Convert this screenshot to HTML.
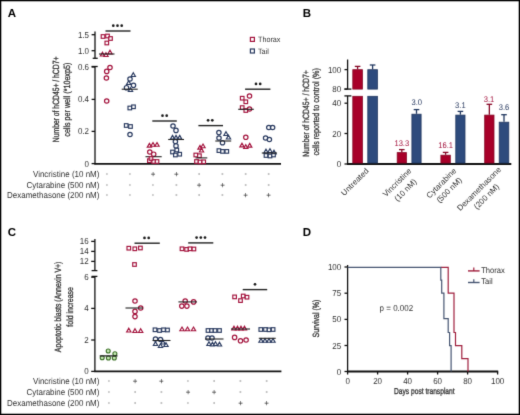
<!DOCTYPE html>
<html><head><meta charset="utf-8"><style>
html,body{margin:0;padding:0;background:#fff;width:520px;height:415px;overflow:hidden;}
svg{display:block;font-family:"Liberation Sans",sans-serif;text-rendering:geometricPrecision;}
#w{width:520px;height:415px;}
</style></head><body>
<div id="w"><svg width="520" height="415" viewBox="0 0 520 415" font-family="Liberation Sans, sans-serif">
<defs><filter id="bl" x="0" y="0" width="520" height="415" filterUnits="userSpaceOnUse" color-interpolation-filters="sRGB"><feConvolveMatrix order="3" kernelMatrix="0.0114 0.084 0.0114 0.084 0.618 0.084 0.0114 0.084 0.0114" divisor="1" edgeMode="duplicate"/></filter></defs>
<rect x="0" y="0" width="520" height="415" fill="#fff"/>
<g filter="url(#bl)">
<rect x="0" y="0" width="520" height="415" fill="#fff"/>
<text x="7.8" y="17.2" font-size="11.5" font-weight="bold" fill="#000">A</text>
<text x="302.8" y="17.2" font-size="11.5" font-weight="bold" fill="#000">B</text>
<text x="7.8" y="236.4" font-size="11.5" font-weight="bold" fill="#000">C</text>
<text x="302.8" y="236.4" font-size="11.5" font-weight="bold" fill="#000">D</text>
<line x1="95" y1="31.6" x2="95" y2="58.3" stroke="#111" stroke-width="1.3"/>
<line x1="92.7" y1="58.3" x2="97.7" y2="58.3" stroke="#111" stroke-width="1.3"/>
<line x1="95" y1="66.5" x2="95" y2="164.2" stroke="#111" stroke-width="1.3"/>
<line x1="91.6" y1="66.5" x2="97.7" y2="66.5" stroke="#111" stroke-width="1.3"/>
<line x1="94.35" y1="163.8" x2="281" y2="163.8" stroke="#111" stroke-width="1.8"/>
<line x1="91.6" y1="34.7" x2="95" y2="34.7" stroke="#111" stroke-width="1.3"/>
<text transform="translate(89,34.7) scale(0.9259,1)" font-size="8.64" text-anchor="end" fill="#333" font-weight="normal" dominant-baseline="central" >1.5</text>
<line x1="91.6" y1="50.7" x2="95" y2="50.7" stroke="#111" stroke-width="1.3"/>
<text transform="translate(89,50.7) scale(0.9259,1)" font-size="8.64" text-anchor="end" fill="#333" font-weight="normal" dominant-baseline="central" >1.0</text>
<line x1="91.6" y1="67.0" x2="95" y2="67.0" stroke="#111" stroke-width="1.3"/>
<text transform="translate(89,67.0) scale(0.9259,1)" font-size="8.64" text-anchor="end" fill="#333" font-weight="normal" dominant-baseline="central" >0.6</text>
<line x1="91.6" y1="99.4" x2="95" y2="99.4" stroke="#111" stroke-width="1.3"/>
<text transform="translate(89,99.4) scale(0.9259,1)" font-size="8.64" text-anchor="end" fill="#333" font-weight="normal" dominant-baseline="central" >0.4</text>
<line x1="91.6" y1="131.4" x2="95" y2="131.4" stroke="#111" stroke-width="1.3"/>
<text transform="translate(89,131.4) scale(0.9259,1)" font-size="8.64" text-anchor="end" fill="#333" font-weight="normal" dominant-baseline="central" >0.2</text>
<line x1="91.6" y1="163.6" x2="95" y2="163.6" stroke="#111" stroke-width="1.3"/>
<text transform="translate(89,163.6) scale(0.9259,1)" font-size="8.64" text-anchor="end" fill="#333" font-weight="normal" dominant-baseline="central" >0</text>
<text transform="translate(59.0,99.4) rotate(-90)" font-size="9" text-anchor="middle" fill="#333" stroke="#333" stroke-width="0.3" textLength="85.6" lengthAdjust="spacingAndGlyphs">Number of hCD45+ / hCD7+</text>
<text transform="translate(70.4,99.7) rotate(-90)" font-size="9" text-anchor="middle" fill="#333" stroke="#333" stroke-width="0.3" textLength="74.0" lengthAdjust="spacingAndGlyphs">cells per well (*10exp5)</text>
<rect x="101.20" y="34.70" width="3.6" height="3.6" fill="#fff" fill-opacity="0.6" stroke="#a3123c" stroke-width="1.15"/>
<rect x="105.70" y="34.20" width="3.6" height="3.6" fill="#fff" fill-opacity="0.6" stroke="#a3123c" stroke-width="1.15"/>
<rect x="108.70" y="36.70" width="3.6" height="3.6" fill="#fff" fill-opacity="0.6" stroke="#a3123c" stroke-width="1.15"/>
<rect x="105.00" y="41.20" width="3.6" height="3.6" fill="#fff" fill-opacity="0.6" stroke="#a3123c" stroke-width="1.15"/>
<path d="M102.50,52.27 L104.65,55.99 L100.35,55.99Z" fill="#fff" fill-opacity="0.6" stroke="#a3123c" stroke-width="1.15" stroke-linejoin="miter"/>
<path d="M106.00,52.77 L108.15,56.49 L103.85,56.49Z" fill="#fff" fill-opacity="0.6" stroke="#a3123c" stroke-width="1.15" stroke-linejoin="miter"/>
<path d="M110.00,50.27 L112.15,53.99 L107.85,53.99Z" fill="#fff" fill-opacity="0.6" stroke="#a3123c" stroke-width="1.15" stroke-linejoin="miter"/>
<line x1="99" y1="54" x2="114.5" y2="54" stroke="#222" stroke-width="1.1"/>
<circle cx="110" cy="67.5" r="2.2" fill="#fff" fill-opacity="0.6" stroke="#a3123c" stroke-width="1.2"/>
<circle cx="106.7" cy="71.4" r="2.2" fill="#fff" fill-opacity="0.6" stroke="#a3123c" stroke-width="1.2"/>
<circle cx="106.4" cy="78" r="2.2" fill="#fff" fill-opacity="0.6" stroke="#a3123c" stroke-width="1.2"/>
<circle cx="106.7" cy="101" r="2.2" fill="#fff" fill-opacity="0.6" stroke="#a3123c" stroke-width="1.2"/>
<path d="M133.30,72.77 L135.45,76.49 L131.15,76.49Z" fill="#fff" fill-opacity="0.6" stroke="#28395f" stroke-width="1.15" stroke-linejoin="miter"/>
<path d="M128.70,80.77 L130.85,84.49 L126.55,84.49Z" fill="#fff" fill-opacity="0.6" stroke="#28395f" stroke-width="1.15" stroke-linejoin="miter"/>
<path d="M130.50,87.77 L132.65,91.49 L128.35,91.49Z" fill="#fff" fill-opacity="0.6" stroke="#28395f" stroke-width="1.15" stroke-linejoin="miter"/>
<circle cx="130" cy="79" r="2.2" fill="#fff" fill-opacity="0.6" stroke="#28395f" stroke-width="1.2"/>
<circle cx="133.5" cy="85.3" r="2.2" fill="#fff" fill-opacity="0.6" stroke="#28395f" stroke-width="1.2"/>
<circle cx="126.5" cy="87.7" r="2.2" fill="#fff" fill-opacity="0.6" stroke="#28395f" stroke-width="1.2"/>
<line x1="121.7" y1="89.2" x2="137.7" y2="89.2" stroke="#222" stroke-width="1.1"/>
<rect x="128.00" y="106.20" width="3.6" height="3.6" fill="#fff" fill-opacity="0.6" stroke="#28395f" stroke-width="1.15"/>
<rect x="131.70" y="105.00" width="3.6" height="3.6" fill="#fff" fill-opacity="0.6" stroke="#28395f" stroke-width="1.15"/>
<rect x="124.40" y="123.70" width="3.6" height="3.6" fill="#fff" fill-opacity="0.6" stroke="#28395f" stroke-width="1.15"/>
<rect x="128.70" y="124.70" width="3.6" height="3.6" fill="#fff" fill-opacity="0.6" stroke="#28395f" stroke-width="1.15"/>
<circle cx="130" cy="134.5" r="2.2" fill="#fff" fill-opacity="0.6" stroke="#28395f" stroke-width="1.2"/>
<line x1="105.5" y1="31" x2="130.5" y2="31" stroke="#222" stroke-width="1.4"/>
<circle cx="113.30" cy="25.70" r="1.35" fill="#1a1a1a"/>
<circle cx="117.50" cy="25.70" r="1.35" fill="#1a1a1a"/>
<circle cx="121.70" cy="25.70" r="1.35" fill="#1a1a1a"/>
<path d="M149.40,143.37 L151.55,147.09 L147.25,147.09Z" fill="#fff" fill-opacity="0.6" stroke="#a3123c" stroke-width="1.15" stroke-linejoin="miter"/>
<path d="M153.00,142.57 L155.15,146.29 L150.85,146.29Z" fill="#fff" fill-opacity="0.6" stroke="#a3123c" stroke-width="1.15" stroke-linejoin="miter"/>
<path d="M157.00,142.57 L159.15,146.29 L154.85,146.29Z" fill="#fff" fill-opacity="0.6" stroke="#a3123c" stroke-width="1.15" stroke-linejoin="miter"/>
<circle cx="149.8" cy="152" r="2.2" fill="#fff" fill-opacity="0.6" stroke="#a3123c" stroke-width="1.2"/>
<circle cx="153.7" cy="154.2" r="2.2" fill="#fff" fill-opacity="0.6" stroke="#a3123c" stroke-width="1.2"/>
<line x1="145.5" y1="156.7" x2="161.7" y2="156.7" stroke="#222" stroke-width="1.1"/>
<rect x="147.60" y="158.90" width="3.6" height="3.6" fill="#fff" fill-opacity="0.6" stroke="#a3123c" stroke-width="1.15"/>
<rect x="151.90" y="159.70" width="3.6" height="3.6" fill="#fff" fill-opacity="0.6" stroke="#a3123c" stroke-width="1.15"/>
<rect x="155.20" y="159.70" width="3.6" height="3.6" fill="#fff" fill-opacity="0.6" stroke="#a3123c" stroke-width="1.15"/>
<rect x="149.20" y="156.70" width="3.6" height="3.6" fill="#fff" fill-opacity="0.6" stroke="#a3123c" stroke-width="1.15"/>
<circle cx="173" cy="126" r="2.2" fill="#fff" fill-opacity="0.6" stroke="#28395f" stroke-width="1.2"/>
<circle cx="176" cy="130.4" r="2.2" fill="#fff" fill-opacity="0.6" stroke="#28395f" stroke-width="1.2"/>
<circle cx="175.4" cy="141.5" r="2.2" fill="#fff" fill-opacity="0.6" stroke="#28395f" stroke-width="1.2"/>
<circle cx="176" cy="145.9" r="2.2" fill="#fff" fill-opacity="0.6" stroke="#28395f" stroke-width="1.2"/>
<path d="M172.50,135.37 L174.65,139.09 L170.35,139.09Z" fill="#fff" fill-opacity="0.6" stroke="#28395f" stroke-width="1.15" stroke-linejoin="miter"/>
<path d="M176.00,135.37 L178.15,139.09 L173.85,139.09Z" fill="#fff" fill-opacity="0.6" stroke="#28395f" stroke-width="1.15" stroke-linejoin="miter"/>
<path d="M179.70,135.37 L181.85,139.09 L177.55,139.09Z" fill="#fff" fill-opacity="0.6" stroke="#28395f" stroke-width="1.15" stroke-linejoin="miter"/>
<line x1="168.2" y1="139.5" x2="184" y2="139.5" stroke="#222" stroke-width="1.1"/>
<rect x="170.70" y="150.20" width="3.6" height="3.6" fill="#fff" fill-opacity="0.6" stroke="#28395f" stroke-width="1.15"/>
<rect x="175.00" y="148.20" width="3.6" height="3.6" fill="#fff" fill-opacity="0.6" stroke="#28395f" stroke-width="1.15"/>
<rect x="177.90" y="152.40" width="3.6" height="3.6" fill="#fff" fill-opacity="0.6" stroke="#28395f" stroke-width="1.15"/>
<rect x="173.60" y="153.20" width="3.6" height="3.6" fill="#fff" fill-opacity="0.6" stroke="#28395f" stroke-width="1.15"/>
<line x1="152.3" y1="121" x2="176.8" y2="121" stroke="#222" stroke-width="1.4"/>
<circle cx="162.50" cy="115.70" r="1.35" fill="#1a1a1a"/>
<circle cx="166.70" cy="115.70" r="1.35" fill="#1a1a1a"/>
<path d="M200.00,145.47 L202.15,149.19 L197.85,149.19Z" fill="#fff" fill-opacity="0.6" stroke="#a3123c" stroke-width="1.15" stroke-linejoin="miter"/>
<path d="M203.00,144.07 L205.15,147.79 L200.85,147.79Z" fill="#fff" fill-opacity="0.6" stroke="#a3123c" stroke-width="1.15" stroke-linejoin="miter"/>
<path d="M201.50,148.27 L203.65,151.99 L199.35,151.99Z" fill="#fff" fill-opacity="0.6" stroke="#a3123c" stroke-width="1.15" stroke-linejoin="miter"/>
<rect x="194.00" y="153.20" width="3.6" height="3.6" fill="#fff" fill-opacity="0.6" stroke="#a3123c" stroke-width="1.15"/>
<rect x="197.60" y="153.90" width="3.6" height="3.6" fill="#fff" fill-opacity="0.6" stroke="#a3123c" stroke-width="1.15"/>
<rect x="194.70" y="159.70" width="3.6" height="3.6" fill="#fff" fill-opacity="0.6" stroke="#a3123c" stroke-width="1.15"/>
<rect x="198.20" y="160.20" width="3.6" height="3.6" fill="#fff" fill-opacity="0.6" stroke="#a3123c" stroke-width="1.15"/>
<rect x="201.90" y="160.00" width="3.6" height="3.6" fill="#fff" fill-opacity="0.6" stroke="#a3123c" stroke-width="1.15"/>
<line x1="195.5" y1="157.9" x2="207.3" y2="157.9" stroke="#222" stroke-width="1.1"/>
<circle cx="218.9" cy="132.6" r="2.2" fill="#fff" fill-opacity="0.6" stroke="#28395f" stroke-width="1.2"/>
<circle cx="219" cy="138" r="2.2" fill="#fff" fill-opacity="0.6" stroke="#28395f" stroke-width="1.2"/>
<circle cx="222.5" cy="142.7" r="2.2" fill="#fff" fill-opacity="0.6" stroke="#28395f" stroke-width="1.2"/>
<path d="M226.00,131.77 L228.15,135.49 L223.85,135.49Z" fill="#fff" fill-opacity="0.6" stroke="#28395f" stroke-width="1.15" stroke-linejoin="miter"/>
<path d="M228.50,135.27 L230.65,138.99 L226.35,138.99Z" fill="#fff" fill-opacity="0.6" stroke="#28395f" stroke-width="1.15" stroke-linejoin="miter"/>
<line x1="215.3" y1="141" x2="231.2" y2="141" stroke="#222" stroke-width="1.1"/>
<rect x="217.10" y="148.80" width="3.6" height="3.6" fill="#fff" fill-opacity="0.6" stroke="#28395f" stroke-width="1.15"/>
<rect x="220.70" y="149.60" width="3.6" height="3.6" fill="#fff" fill-opacity="0.6" stroke="#28395f" stroke-width="1.15"/>
<rect x="225.00" y="149.60" width="3.6" height="3.6" fill="#fff" fill-opacity="0.6" stroke="#28395f" stroke-width="1.15"/>
<line x1="198.4" y1="125.6" x2="223" y2="125.6" stroke="#222" stroke-width="1.4"/>
<circle cx="208.10" cy="120.30" r="1.35" fill="#1a1a1a"/>
<circle cx="212.30" cy="120.30" r="1.35" fill="#1a1a1a"/>
<circle cx="249.5" cy="96" r="2.2" fill="#fff" fill-opacity="0.6" stroke="#a3123c" stroke-width="1.2"/>
<circle cx="249.5" cy="109" r="2.2" fill="#fff" fill-opacity="0.6" stroke="#a3123c" stroke-width="1.2"/>
<circle cx="245.8" cy="137.3" r="2.2" fill="#fff" fill-opacity="0.6" stroke="#a3123c" stroke-width="1.2"/>
<rect x="240.40" y="96.40" width="3.6" height="3.6" fill="#fff" fill-opacity="0.6" stroke="#a3123c" stroke-width="1.15"/>
<rect x="244.00" y="100.00" width="3.6" height="3.6" fill="#fff" fill-opacity="0.6" stroke="#a3123c" stroke-width="1.15"/>
<rect x="240.40" y="105.80" width="3.6" height="3.6" fill="#fff" fill-opacity="0.6" stroke="#a3123c" stroke-width="1.15"/>
<rect x="244.00" y="108.70" width="3.6" height="3.6" fill="#fff" fill-opacity="0.6" stroke="#a3123c" stroke-width="1.15"/>
<line x1="238.2" y1="109.3" x2="253.8" y2="109.3" stroke="#222" stroke-width="1.1"/>
<path d="M242.00,143.17 L244.15,146.89 L239.85,146.89Z" fill="#fff" fill-opacity="0.6" stroke="#a3123c" stroke-width="1.15" stroke-linejoin="miter"/>
<path d="M245.80,144.67 L247.95,148.39 L243.65,148.39Z" fill="#fff" fill-opacity="0.6" stroke="#a3123c" stroke-width="1.15" stroke-linejoin="miter"/>
<path d="M249.70,143.37 L251.85,147.09 L247.55,147.09Z" fill="#fff" fill-opacity="0.6" stroke="#a3123c" stroke-width="1.15" stroke-linejoin="miter"/>
<circle cx="268.8" cy="127.5" r="2.2" fill="#fff" fill-opacity="0.6" stroke="#28395f" stroke-width="1.2"/>
<circle cx="272.6" cy="127.5" r="2.2" fill="#fff" fill-opacity="0.6" stroke="#28395f" stroke-width="1.2"/>
<circle cx="265.6" cy="138" r="2.2" fill="#fff" fill-opacity="0.6" stroke="#28395f" stroke-width="1.2"/>
<circle cx="269.4" cy="139.5" r="2.2" fill="#fff" fill-opacity="0.6" stroke="#28395f" stroke-width="1.2"/>
<path d="M266.00,149.27 L268.15,152.99 L263.85,152.99Z" fill="#fff" fill-opacity="0.6" stroke="#28395f" stroke-width="1.15" stroke-linejoin="miter"/>
<path d="M270.00,148.77 L272.15,152.49 L267.85,152.49Z" fill="#fff" fill-opacity="0.6" stroke="#28395f" stroke-width="1.15" stroke-linejoin="miter"/>
<path d="M274.00,150.27 L276.15,153.99 L271.85,153.99Z" fill="#fff" fill-opacity="0.6" stroke="#28395f" stroke-width="1.15" stroke-linejoin="miter"/>
<rect x="264.20" y="153.70" width="3.6" height="3.6" fill="#fff" fill-opacity="0.6" stroke="#28395f" stroke-width="1.15"/>
<rect x="268.20" y="154.20" width="3.6" height="3.6" fill="#fff" fill-opacity="0.6" stroke="#28395f" stroke-width="1.15"/>
<rect x="271.70" y="153.20" width="3.6" height="3.6" fill="#fff" fill-opacity="0.6" stroke="#28395f" stroke-width="1.15"/>
<line x1="261.8" y1="153" x2="277" y2="153" stroke="#222" stroke-width="1.1"/>
<line x1="245.1" y1="89.2" x2="270.4" y2="89.2" stroke="#222" stroke-width="1.4"/>
<circle cx="256.00" cy="83.90" r="1.35" fill="#1a1a1a"/>
<circle cx="260.20" cy="83.90" r="1.35" fill="#1a1a1a"/>
<rect x="250.40" y="37.40" width="4.0" height="4.0" fill="#fff" fill-opacity="0.6" stroke="#a3123c" stroke-width="1.2"/>
<rect x="250.40" y="49.00" width="4.0" height="4.0" fill="#fff" fill-opacity="0.6" stroke="#28395f" stroke-width="1.2"/>
<text transform="translate(258,39.6) scale(0.9259,1)" font-size="7.78" text-anchor="start" fill="#333" font-weight="normal" dominant-baseline="central" >Thorax</text>
<text transform="translate(258,51.2) scale(0.9259,1)" font-size="7.78" text-anchor="start" fill="#333" font-weight="normal" dominant-baseline="central" >Tail</text>
<text transform="translate(99.4,174.2) scale(0.9259,1)" font-size="8.64" text-anchor="end" fill="#333" font-weight="normal" dominant-baseline="central" >Vincristine (10 nM)</text>
<text transform="translate(107,173.6) scale(0.9259,1)" font-size="7.56" text-anchor="middle" fill="#333" font-weight="normal" dominant-baseline="central" >-</text>
<text transform="translate(130,173.6) scale(0.9259,1)" font-size="7.56" text-anchor="middle" fill="#333" font-weight="normal" dominant-baseline="central" >-</text>
<text transform="translate(153,174.2) scale(0.9259,1)" font-size="8.64" text-anchor="middle" fill="#333" font-weight="normal" dominant-baseline="central" >+</text>
<text transform="translate(176.4,174.2) scale(0.9259,1)" font-size="8.64" text-anchor="middle" fill="#333" font-weight="normal" dominant-baseline="central" >+</text>
<text transform="translate(199.2,173.6) scale(0.9259,1)" font-size="7.56" text-anchor="middle" fill="#333" font-weight="normal" dominant-baseline="central" >-</text>
<text transform="translate(222.5,173.6) scale(0.9259,1)" font-size="7.56" text-anchor="middle" fill="#333" font-weight="normal" dominant-baseline="central" >-</text>
<text transform="translate(245.7,173.6) scale(0.9259,1)" font-size="7.56" text-anchor="middle" fill="#333" font-weight="normal" dominant-baseline="central" >-</text>
<text transform="translate(268.6,173.6) scale(0.9259,1)" font-size="7.56" text-anchor="middle" fill="#333" font-weight="normal" dominant-baseline="central" >-</text>
<text transform="translate(99.4,184.8) scale(0.9259,1)" font-size="8.64" text-anchor="end" fill="#333" font-weight="normal" dominant-baseline="central" >Cytarabine (500 nM)</text>
<text transform="translate(107,184.20000000000002) scale(0.9259,1)" font-size="7.56" text-anchor="middle" fill="#333" font-weight="normal" dominant-baseline="central" >-</text>
<text transform="translate(130,184.20000000000002) scale(0.9259,1)" font-size="7.56" text-anchor="middle" fill="#333" font-weight="normal" dominant-baseline="central" >-</text>
<text transform="translate(153,184.20000000000002) scale(0.9259,1)" font-size="7.56" text-anchor="middle" fill="#333" font-weight="normal" dominant-baseline="central" >-</text>
<text transform="translate(176.4,184.20000000000002) scale(0.9259,1)" font-size="7.56" text-anchor="middle" fill="#333" font-weight="normal" dominant-baseline="central" >-</text>
<text transform="translate(199.2,184.8) scale(0.9259,1)" font-size="8.64" text-anchor="middle" fill="#333" font-weight="normal" dominant-baseline="central" >+</text>
<text transform="translate(222.5,184.8) scale(0.9259,1)" font-size="8.64" text-anchor="middle" fill="#333" font-weight="normal" dominant-baseline="central" >+</text>
<text transform="translate(245.7,184.20000000000002) scale(0.9259,1)" font-size="7.56" text-anchor="middle" fill="#333" font-weight="normal" dominant-baseline="central" >-</text>
<text transform="translate(268.6,184.20000000000002) scale(0.9259,1)" font-size="7.56" text-anchor="middle" fill="#333" font-weight="normal" dominant-baseline="central" >-</text>
<text transform="translate(99.4,195.4) scale(0.9259,1)" font-size="8.64" text-anchor="end" fill="#333" font-weight="normal" dominant-baseline="central" >Dexamethasone (200 nM)</text>
<text transform="translate(107,194.8) scale(0.9259,1)" font-size="7.56" text-anchor="middle" fill="#333" font-weight="normal" dominant-baseline="central" >-</text>
<text transform="translate(130,194.8) scale(0.9259,1)" font-size="7.56" text-anchor="middle" fill="#333" font-weight="normal" dominant-baseline="central" >-</text>
<text transform="translate(153,194.8) scale(0.9259,1)" font-size="7.56" text-anchor="middle" fill="#333" font-weight="normal" dominant-baseline="central" >-</text>
<text transform="translate(176.4,194.8) scale(0.9259,1)" font-size="7.56" text-anchor="middle" fill="#333" font-weight="normal" dominant-baseline="central" >-</text>
<text transform="translate(199.2,194.8) scale(0.9259,1)" font-size="7.56" text-anchor="middle" fill="#333" font-weight="normal" dominant-baseline="central" >-</text>
<text transform="translate(222.5,194.8) scale(0.9259,1)" font-size="7.56" text-anchor="middle" fill="#333" font-weight="normal" dominant-baseline="central" >-</text>
<text transform="translate(245.7,195.4) scale(0.9259,1)" font-size="8.64" text-anchor="middle" fill="#333" font-weight="normal" dominant-baseline="central" >+</text>
<text transform="translate(268.6,195.4) scale(0.9259,1)" font-size="8.64" text-anchor="middle" fill="#333" font-weight="normal" dominant-baseline="central" >+</text>
<line x1="347.6" y1="59.5" x2="347.6" y2="89.1" stroke="#111" stroke-width="1.3"/>
<line x1="344.4" y1="89.1" x2="351.4" y2="89.1" stroke="#111" stroke-width="1.3"/>
<line x1="347.6" y1="95.9" x2="347.6" y2="163.7" stroke="#111" stroke-width="1.3"/>
<line x1="344.4" y1="95.9" x2="351.4" y2="95.9" stroke="#111" stroke-width="1.3"/>
<line x1="346.95000000000005" y1="164.0" x2="511.3" y2="164.0" stroke="#111" stroke-width="1.8"/>
<line x1="344.5" y1="69.6" x2="347.6" y2="69.6" stroke="#111" stroke-width="1.3"/>
<text transform="translate(341.2,69.6) scale(0.9259,1)" font-size="8.64" text-anchor="end" fill="#333" font-weight="normal" dominant-baseline="central" >100</text>
<line x1="344.5" y1="89.1" x2="347.6" y2="89.1" stroke="#111" stroke-width="1.3"/>
<text transform="translate(341.2,89.1) scale(0.9259,1)" font-size="8.64" text-anchor="end" fill="#333" font-weight="normal" dominant-baseline="central" >80</text>
<line x1="344.5" y1="103.2" x2="347.6" y2="103.2" stroke="#111" stroke-width="1.3"/>
<text transform="translate(341.2,103.2) scale(0.9259,1)" font-size="8.64" text-anchor="end" fill="#333" font-weight="normal" dominant-baseline="central" >40</text>
<line x1="344.5" y1="133.5" x2="347.6" y2="133.5" stroke="#111" stroke-width="1.3"/>
<text transform="translate(341.2,133.5) scale(0.9259,1)" font-size="8.64" text-anchor="end" fill="#333" font-weight="normal" dominant-baseline="central" >20</text>
<line x1="344.5" y1="164.0" x2="347.6" y2="164.0" stroke="#111" stroke-width="1.3"/>
<text transform="translate(341.2,164.0) scale(0.9259,1)" font-size="8.64" text-anchor="end" fill="#333" font-weight="normal" dominant-baseline="central" >0</text>
<text transform="translate(309.0,113.5) rotate(-90)" font-size="9" text-anchor="middle" fill="#333" stroke="#333" stroke-width="0.3" textLength="86.4" lengthAdjust="spacingAndGlyphs">Number of hCD45+ / hCD7+</text>
<text transform="translate(319.2,111.9) rotate(-90)" font-size="9" text-anchor="middle" fill="#333" stroke="#333" stroke-width="0.3" textLength="87.4" lengthAdjust="spacingAndGlyphs">cells reported to control (%)</text>
<line x1="357.6" y1="69.3" x2="357.6" y2="66.4" stroke="#860826" stroke-width="1.3"/>
<line x1="354.8" y1="66.4" x2="360.40000000000003" y2="66.4" stroke="#860826" stroke-width="1.3"/>
<rect x="352.80" y="69.70" width="9.60" height="19.40" fill="#a80029" stroke="#860826" stroke-width="0.8"/>
<rect x="352.80" y="96.30" width="9.60" height="66.70" fill="#a80029" stroke="#860826" stroke-width="0.8"/>
<line x1="372.6" y1="69.3" x2="372.6" y2="65.0" stroke="#223860" stroke-width="1.3"/>
<line x1="369.8" y1="65.0" x2="375.40000000000003" y2="65.0" stroke="#223860" stroke-width="1.3"/>
<rect x="367.80" y="69.70" width="9.60" height="19.40" fill="#2e4b7d" stroke="#223860" stroke-width="0.8"/>
<rect x="367.80" y="96.30" width="9.60" height="66.70" fill="#2e4b7d" stroke="#223860" stroke-width="0.8"/>
<line x1="401.8" y1="152.2" x2="401.8" y2="149.6" stroke="#860826" stroke-width="1.3"/>
<line x1="399.0" y1="149.6" x2="404.6" y2="149.6" stroke="#860826" stroke-width="1.3"/>
<rect x="397.20" y="152.60" width="9.20" height="10.40" fill="#a80029" stroke="#860826" stroke-width="0.8"/>
<line x1="416.5" y1="113.8" x2="416.5" y2="109.6" stroke="#223860" stroke-width="1.3"/>
<line x1="413.7" y1="109.6" x2="419.3" y2="109.6" stroke="#223860" stroke-width="1.3"/>
<rect x="411.90" y="114.20" width="9.20" height="48.80" fill="#2e4b7d" stroke="#223860" stroke-width="0.8"/>
<line x1="445.6" y1="154.8" x2="445.6" y2="152.4" stroke="#860826" stroke-width="1.3"/>
<line x1="442.8" y1="152.4" x2="448.40000000000003" y2="152.4" stroke="#860826" stroke-width="1.3"/>
<rect x="440.90" y="155.20" width="9.40" height="7.80" fill="#a80029" stroke="#860826" stroke-width="0.8"/>
<line x1="460.4" y1="114.7" x2="460.4" y2="111.4" stroke="#223860" stroke-width="1.3"/>
<line x1="457.59999999999997" y1="111.4" x2="463.2" y2="111.4" stroke="#223860" stroke-width="1.3"/>
<rect x="455.80" y="115.10" width="9.20" height="47.90" fill="#2e4b7d" stroke="#223860" stroke-width="0.8"/>
<line x1="489.35" y1="114.7" x2="489.35" y2="104.3" stroke="#860826" stroke-width="1.3"/>
<line x1="486.55" y1="104.3" x2="492.15000000000003" y2="104.3" stroke="#860826" stroke-width="1.3"/>
<rect x="484.70" y="115.10" width="9.30" height="47.90" fill="#a80029" stroke="#860826" stroke-width="0.8"/>
<line x1="504.0" y1="121.8" x2="504.0" y2="114.7" stroke="#223860" stroke-width="1.3"/>
<line x1="501.2" y1="114.7" x2="506.8" y2="114.7" stroke="#223860" stroke-width="1.3"/>
<rect x="499.20" y="122.20" width="9.60" height="40.80" fill="#2e4b7d" stroke="#223860" stroke-width="0.8"/>
<text transform="translate(401.8,143) scale(0.9259,1)" font-size="8.21" text-anchor="middle" fill="#a3123c" font-weight="normal" dominant-baseline="central" >13.3</text>
<text transform="translate(416.7,102) scale(0.9259,1)" font-size="8.21" text-anchor="middle" fill="#28395f" font-weight="normal" dominant-baseline="central" >3.0</text>
<text transform="translate(445.6,145) scale(0.9259,1)" font-size="8.21" text-anchor="middle" fill="#a3123c" font-weight="normal" dominant-baseline="central" >16.1</text>
<text transform="translate(460.4,105) scale(0.9259,1)" font-size="8.21" text-anchor="middle" fill="#28395f" font-weight="normal" dominant-baseline="central" >3.1</text>
<text transform="translate(489,99) scale(0.9259,1)" font-size="8.21" text-anchor="middle" fill="#a3123c" font-weight="normal" dominant-baseline="central" >3.1</text>
<text transform="translate(504,107.7) scale(0.9259,1)" font-size="8.21" text-anchor="middle" fill="#28395f" font-weight="normal" dominant-baseline="central" >3.6</text>
<text transform="translate(355,182) rotate(-45)" font-size="8" text-anchor="middle" fill="#333" dominant-baseline="central">Untreated</text>
<text transform="translate(397.2,182.6) rotate(-45)" font-size="8" text-anchor="middle" fill="#333" dominant-baseline="central">Vincristine</text>
<text transform="translate(405.6,190.2) rotate(-45)" font-size="8" text-anchor="middle" fill="#333" dominant-baseline="central">(10 nM)</text>
<text transform="translate(441.4,183.2) rotate(-45)" font-size="8" text-anchor="middle" fill="#333" dominant-baseline="central">Cytarabine</text>
<text transform="translate(449.2,190.2) rotate(-45)" font-size="8" text-anchor="middle" fill="#333" dominant-baseline="central">(500 nM)</text>
<text transform="translate(479.2,189) rotate(-45)" font-size="8" text-anchor="middle" fill="#333" dominant-baseline="central">Dexamethasone</text>
<text transform="translate(486.6,196.6) rotate(-45)" font-size="8" text-anchor="middle" fill="#333" dominant-baseline="central">(200 nM)</text>
<line x1="94.9" y1="239" x2="94.9" y2="270.6" stroke="#111" stroke-width="1.3"/>
<line x1="91.6" y1="270.6" x2="97.4" y2="270.6" stroke="#111" stroke-width="1.3"/>
<line x1="94.9" y1="276.4" x2="94.9" y2="371.3" stroke="#111" stroke-width="1.3"/>
<line x1="91.6" y1="276.4" x2="97.4" y2="276.4" stroke="#111" stroke-width="1.3"/>
<line x1="94.25" y1="371.3" x2="281.4" y2="371.3" stroke="#111" stroke-width="1.8"/>
<line x1="91.2" y1="241.4" x2="94.9" y2="241.4" stroke="#111" stroke-width="1.3"/>
<text transform="translate(88.6,241.4) scale(0.9259,1)" font-size="8.64" text-anchor="end" fill="#333" font-weight="normal" dominant-baseline="central" >16</text>
<line x1="91.2" y1="251.4" x2="94.9" y2="251.4" stroke="#111" stroke-width="1.3"/>
<text transform="translate(88.6,251.4) scale(0.9259,1)" font-size="8.64" text-anchor="end" fill="#333" font-weight="normal" dominant-baseline="central" >14</text>
<line x1="91.2" y1="261.4" x2="94.9" y2="261.4" stroke="#111" stroke-width="1.3"/>
<text transform="translate(88.6,261.4) scale(0.9259,1)" font-size="8.64" text-anchor="end" fill="#333" font-weight="normal" dominant-baseline="central" >12</text>
<line x1="91.2" y1="277.2" x2="94.9" y2="277.2" stroke="#111" stroke-width="1.3"/>
<text transform="translate(88.6,277.2) scale(0.9259,1)" font-size="8.64" text-anchor="end" fill="#333" font-weight="normal" dominant-baseline="central" >6</text>
<line x1="91.2" y1="308.4" x2="94.9" y2="308.4" stroke="#111" stroke-width="1.3"/>
<text transform="translate(88.6,308.4) scale(0.9259,1)" font-size="8.64" text-anchor="end" fill="#333" font-weight="normal" dominant-baseline="central" >4</text>
<line x1="91.2" y1="340" x2="94.9" y2="340" stroke="#111" stroke-width="1.3"/>
<text transform="translate(88.6,340) scale(0.9259,1)" font-size="8.64" text-anchor="end" fill="#333" font-weight="normal" dominant-baseline="central" >2</text>
<line x1="91.2" y1="371.4" x2="94.9" y2="371.4" stroke="#111" stroke-width="1.3"/>
<text transform="translate(88.6,371.4) scale(0.9259,1)" font-size="8.64" text-anchor="end" fill="#333" font-weight="normal" dominant-baseline="central" >0</text>
<text transform="translate(61.0,306.9) rotate(-90)" font-size="9" text-anchor="middle" fill="#333" stroke="#333" stroke-width="0.3" textLength="90.6" lengthAdjust="spacingAndGlyphs">Apoptotic blasts (Annexin V+)</text>
<text transform="translate(73.3,306.9) rotate(-90)" font-size="9" text-anchor="middle" fill="#333" stroke="#333" stroke-width="0.3" textLength="39.6" lengthAdjust="spacingAndGlyphs">fold increase</text>
<circle cx="108.2" cy="351" r="2.0" fill="#9fd880" fill-opacity="0.6" stroke="#3a6f25" stroke-width="1.1"/>
<circle cx="114.9" cy="353.8" r="2.0" fill="#9fd880" fill-opacity="0.6" stroke="#3a6f25" stroke-width="1.1"/>
<circle cx="102.2" cy="357.8" r="2.0" fill="#9fd880" fill-opacity="0.6" stroke="#3a6f25" stroke-width="1.1"/>
<circle cx="108.4" cy="358" r="2.0" fill="#9fd880" fill-opacity="0.6" stroke="#3a6f25" stroke-width="1.1"/>
<circle cx="114.3" cy="358" r="2.0" fill="#9fd880" fill-opacity="0.6" stroke="#3a6f25" stroke-width="1.1"/>
<line x1="99.7" y1="355.9" x2="117.5" y2="355.9" stroke="#222" stroke-width="1.3"/>
<rect x="127.00" y="246.40" width="3.6" height="3.6" fill="#fff" fill-opacity="0.6" stroke="#a3123c" stroke-width="1.15"/>
<rect x="133.00" y="247.00" width="3.6" height="3.6" fill="#fff" fill-opacity="0.6" stroke="#a3123c" stroke-width="1.15"/>
<rect x="138.60" y="246.20" width="3.6" height="3.6" fill="#fff" fill-opacity="0.6" stroke="#a3123c" stroke-width="1.15"/>
<rect x="132.70" y="262.70" width="3.6" height="3.6" fill="#fff" fill-opacity="0.6" stroke="#a3123c" stroke-width="1.15"/>
<circle cx="135" cy="301" r="2.2" fill="#fff" fill-opacity="0.6" stroke="#a3123c" stroke-width="1.2"/>
<circle cx="140.7" cy="308" r="2.2" fill="#fff" fill-opacity="0.6" stroke="#a3123c" stroke-width="1.2"/>
<circle cx="135" cy="311.4" r="2.2" fill="#fff" fill-opacity="0.6" stroke="#a3123c" stroke-width="1.2"/>
<circle cx="135" cy="316.6" r="2.2" fill="#fff" fill-opacity="0.6" stroke="#a3123c" stroke-width="1.2"/>
<line x1="125.5" y1="308" x2="143" y2="308" stroke="#222" stroke-width="1.1"/>
<path d="M128.80,328.27 L130.95,331.99 L126.65,331.99Z" fill="#fff" fill-opacity="0.6" stroke="#a3123c" stroke-width="1.15" stroke-linejoin="miter"/>
<path d="M135.00,328.77 L137.15,332.49 L132.85,332.49Z" fill="#fff" fill-opacity="0.6" stroke="#a3123c" stroke-width="1.15" stroke-linejoin="miter"/>
<path d="M140.70,328.77 L142.85,332.49 L138.55,332.49Z" fill="#fff" fill-opacity="0.6" stroke="#a3123c" stroke-width="1.15" stroke-linejoin="miter"/>
<rect x="153.20" y="328.00" width="3.6" height="3.6" fill="#fff" fill-opacity="0.6" stroke="#28395f" stroke-width="1.15"/>
<rect x="157.70" y="328.70" width="3.6" height="3.6" fill="#fff" fill-opacity="0.6" stroke="#28395f" stroke-width="1.15"/>
<rect x="161.70" y="328.00" width="3.6" height="3.6" fill="#fff" fill-opacity="0.6" stroke="#28395f" stroke-width="1.15"/>
<rect x="165.70" y="328.20" width="3.6" height="3.6" fill="#fff" fill-opacity="0.6" stroke="#28395f" stroke-width="1.15"/>
<circle cx="155.5" cy="339" r="2.2" fill="#fff" fill-opacity="0.6" stroke="#28395f" stroke-width="1.2"/>
<circle cx="160.5" cy="339.5" r="2.2" fill="#fff" fill-opacity="0.6" stroke="#28395f" stroke-width="1.2"/>
<path d="M155.50,341.77 L157.65,345.49 L153.35,345.49Z" fill="#fff" fill-opacity="0.6" stroke="#28395f" stroke-width="1.15" stroke-linejoin="miter"/>
<path d="M160.50,343.77 L162.65,347.49 L158.35,347.49Z" fill="#fff" fill-opacity="0.6" stroke="#28395f" stroke-width="1.15" stroke-linejoin="miter"/>
<path d="M166.00,342.77 L168.15,346.49 L163.85,346.49Z" fill="#fff" fill-opacity="0.6" stroke="#28395f" stroke-width="1.15" stroke-linejoin="miter"/>
<path d="M163.00,340.27 L165.15,343.99 L160.85,343.99Z" fill="#fff" fill-opacity="0.6" stroke="#28395f" stroke-width="1.15" stroke-linejoin="miter"/>
<line x1="152.5" y1="340.5" x2="170.5" y2="340.5" stroke="#222" stroke-width="1.1"/>
<line x1="134.5" y1="243.2" x2="159.8" y2="243.2" stroke="#222" stroke-width="1.4"/>
<circle cx="144.50" cy="237.90" r="1.35" fill="#1a1a1a"/>
<circle cx="148.70" cy="237.90" r="1.35" fill="#1a1a1a"/>
<rect x="180.20" y="247.00" width="3.6" height="3.6" fill="#fff" fill-opacity="0.6" stroke="#a3123c" stroke-width="1.15"/>
<rect x="184.80" y="247.60" width="3.6" height="3.6" fill="#fff" fill-opacity="0.6" stroke="#a3123c" stroke-width="1.15"/>
<rect x="188.20" y="247.00" width="3.6" height="3.6" fill="#fff" fill-opacity="0.6" stroke="#a3123c" stroke-width="1.15"/>
<rect x="192.10" y="247.20" width="3.6" height="3.6" fill="#fff" fill-opacity="0.6" stroke="#a3123c" stroke-width="1.15"/>
<circle cx="185.2" cy="301" r="2.2" fill="#fff" fill-opacity="0.6" stroke="#a3123c" stroke-width="1.2"/>
<circle cx="193.6" cy="301.9" r="2.2" fill="#fff" fill-opacity="0.6" stroke="#a3123c" stroke-width="1.2"/>
<circle cx="181.8" cy="306.1" r="2.2" fill="#fff" fill-opacity="0.6" stroke="#a3123c" stroke-width="1.2"/>
<circle cx="186.9" cy="306.1" r="2.2" fill="#fff" fill-opacity="0.6" stroke="#a3123c" stroke-width="1.2"/>
<line x1="178.4" y1="301.9" x2="197" y2="301.9" stroke="#222" stroke-width="1.1"/>
<path d="M182.00,327.07 L184.15,330.79 L179.85,330.79Z" fill="#fff" fill-opacity="0.6" stroke="#a3123c" stroke-width="1.15" stroke-linejoin="miter"/>
<path d="M187.50,327.07 L189.65,330.79 L185.35,330.79Z" fill="#fff" fill-opacity="0.6" stroke="#a3123c" stroke-width="1.15" stroke-linejoin="miter"/>
<path d="M193.50,327.07 L195.65,330.79 L191.35,330.79Z" fill="#fff" fill-opacity="0.6" stroke="#a3123c" stroke-width="1.15" stroke-linejoin="miter"/>
<line x1="188.2" y1="242.9" x2="213.3" y2="242.9" stroke="#222" stroke-width="1.4"/>
<circle cx="196.60" cy="237.60" r="1.35" fill="#1a1a1a"/>
<circle cx="200.80" cy="237.60" r="1.35" fill="#1a1a1a"/>
<circle cx="205.00" cy="237.60" r="1.35" fill="#1a1a1a"/>
<rect x="206.20" y="328.70" width="3.6" height="3.6" fill="#fff" fill-opacity="0.6" stroke="#28395f" stroke-width="1.15"/>
<rect x="209.70" y="328.70" width="3.6" height="3.6" fill="#fff" fill-opacity="0.6" stroke="#28395f" stroke-width="1.15"/>
<rect x="213.20" y="328.70" width="3.6" height="3.6" fill="#fff" fill-opacity="0.6" stroke="#28395f" stroke-width="1.15"/>
<rect x="217.70" y="328.70" width="3.6" height="3.6" fill="#fff" fill-opacity="0.6" stroke="#28395f" stroke-width="1.15"/>
<circle cx="208" cy="338" r="2.2" fill="#fff" fill-opacity="0.6" stroke="#28395f" stroke-width="1.2"/>
<circle cx="212" cy="338" r="2.2" fill="#fff" fill-opacity="0.6" stroke="#28395f" stroke-width="1.2"/>
<path d="M209.00,341.77 L211.15,345.49 L206.85,345.49Z" fill="#fff" fill-opacity="0.6" stroke="#28395f" stroke-width="1.15" stroke-linejoin="miter"/>
<path d="M212.50,342.27 L214.65,345.99 L210.35,345.99Z" fill="#fff" fill-opacity="0.6" stroke="#28395f" stroke-width="1.15" stroke-linejoin="miter"/>
<path d="M215.50,341.77 L217.65,345.49 L213.35,345.49Z" fill="#fff" fill-opacity="0.6" stroke="#28395f" stroke-width="1.15" stroke-linejoin="miter"/>
<path d="M219.50,342.27 L221.65,345.99 L217.35,345.99Z" fill="#fff" fill-opacity="0.6" stroke="#28395f" stroke-width="1.15" stroke-linejoin="miter"/>
<line x1="205" y1="339" x2="223.5" y2="339" stroke="#222" stroke-width="1.1"/>
<rect x="232.80" y="295.10" width="3.6" height="3.6" fill="#fff" fill-opacity="0.6" stroke="#a3123c" stroke-width="1.15"/>
<rect x="238.70" y="298.80" width="3.6" height="3.6" fill="#fff" fill-opacity="0.6" stroke="#a3123c" stroke-width="1.15"/>
<rect x="241.40" y="294.20" width="3.6" height="3.6" fill="#fff" fill-opacity="0.6" stroke="#a3123c" stroke-width="1.15"/>
<rect x="245.20" y="295.40" width="3.6" height="3.6" fill="#fff" fill-opacity="0.6" stroke="#a3123c" stroke-width="1.15"/>
<path d="M234.00,326.27 L236.15,329.99 L231.85,329.99Z" fill="#fff" fill-opacity="0.6" stroke="#a3123c" stroke-width="1.15" stroke-linejoin="miter"/>
<path d="M237.50,326.27 L239.65,329.99 L235.35,329.99Z" fill="#fff" fill-opacity="0.6" stroke="#a3123c" stroke-width="1.15" stroke-linejoin="miter"/>
<path d="M241.00,326.27 L243.15,329.99 L238.85,329.99Z" fill="#fff" fill-opacity="0.6" stroke="#a3123c" stroke-width="1.15" stroke-linejoin="miter"/>
<path d="M244.50,326.27 L246.65,329.99 L242.35,329.99Z" fill="#fff" fill-opacity="0.6" stroke="#a3123c" stroke-width="1.15" stroke-linejoin="miter"/>
<line x1="231" y1="329" x2="250" y2="329" stroke="#222" stroke-width="1.1"/>
<circle cx="234.6" cy="337.4" r="2.2" fill="#fff" fill-opacity="0.6" stroke="#a3123c" stroke-width="1.2"/>
<circle cx="240.5" cy="340.8" r="2.2" fill="#fff" fill-opacity="0.6" stroke="#a3123c" stroke-width="1.2"/>
<circle cx="246.1" cy="340" r="2.2" fill="#fff" fill-opacity="0.6" stroke="#a3123c" stroke-width="1.2"/>
<rect x="259.00" y="327.70" width="3.6" height="3.6" fill="#fff" fill-opacity="0.6" stroke="#28395f" stroke-width="1.15"/>
<rect x="263.70" y="327.70" width="3.6" height="3.6" fill="#fff" fill-opacity="0.6" stroke="#28395f" stroke-width="1.15"/>
<rect x="267.20" y="328.00" width="3.6" height="3.6" fill="#fff" fill-opacity="0.6" stroke="#28395f" stroke-width="1.15"/>
<rect x="271.30" y="327.70" width="3.6" height="3.6" fill="#fff" fill-opacity="0.6" stroke="#28395f" stroke-width="1.15"/>
<path d="M261.00,338.57 L263.15,342.29 L258.85,342.29Z" fill="#fff" fill-opacity="0.6" stroke="#28395f" stroke-width="1.15" stroke-linejoin="miter"/>
<path d="M265.00,338.57 L267.15,342.29 L262.85,342.29Z" fill="#fff" fill-opacity="0.6" stroke="#28395f" stroke-width="1.15" stroke-linejoin="miter"/>
<path d="M269.00,338.57 L271.15,342.29 L266.85,342.29Z" fill="#fff" fill-opacity="0.6" stroke="#28395f" stroke-width="1.15" stroke-linejoin="miter"/>
<path d="M273.00,338.57 L275.15,342.29 L270.85,342.29Z" fill="#fff" fill-opacity="0.6" stroke="#28395f" stroke-width="1.15" stroke-linejoin="miter"/>
<line x1="258.8" y1="338.3" x2="275.7" y2="338.3" stroke="#222" stroke-width="1.1"/>
<line x1="242.7" y1="289.6" x2="267.2" y2="289.6" stroke="#222" stroke-width="1.4"/>
<circle cx="255.00" cy="284.30" r="1.35" fill="#1a1a1a"/>
<text transform="translate(99.4,381.2) scale(0.9259,1)" font-size="8.64" text-anchor="end" fill="#333" font-weight="normal" dominant-baseline="central" >Vincristine (10 nM)</text>
<text transform="translate(108.9,380.59999999999997) scale(0.9259,1)" font-size="7.56" text-anchor="middle" fill="#333" font-weight="normal" dominant-baseline="central" >-</text>
<text transform="translate(135.1,381.2) scale(0.9259,1)" font-size="8.64" text-anchor="middle" fill="#333" font-weight="normal" dominant-baseline="central" >+</text>
<text transform="translate(161.4,381.2) scale(0.9259,1)" font-size="8.64" text-anchor="middle" fill="#333" font-weight="normal" dominant-baseline="central" >+</text>
<text transform="translate(188,380.59999999999997) scale(0.9259,1)" font-size="7.56" text-anchor="middle" fill="#333" font-weight="normal" dominant-baseline="central" >-</text>
<text transform="translate(214.2,380.59999999999997) scale(0.9259,1)" font-size="7.56" text-anchor="middle" fill="#333" font-weight="normal" dominant-baseline="central" >-</text>
<text transform="translate(240.5,380.59999999999997) scale(0.9259,1)" font-size="7.56" text-anchor="middle" fill="#333" font-weight="normal" dominant-baseline="central" >-</text>
<text transform="translate(266.7,380.59999999999997) scale(0.9259,1)" font-size="7.56" text-anchor="middle" fill="#333" font-weight="normal" dominant-baseline="central" >-</text>
<text transform="translate(99.4,392.4) scale(0.9259,1)" font-size="8.64" text-anchor="end" fill="#333" font-weight="normal" dominant-baseline="central" >Cytarabine (500 nM)</text>
<text transform="translate(108.9,391.79999999999995) scale(0.9259,1)" font-size="7.56" text-anchor="middle" fill="#333" font-weight="normal" dominant-baseline="central" >-</text>
<text transform="translate(135.1,391.79999999999995) scale(0.9259,1)" font-size="7.56" text-anchor="middle" fill="#333" font-weight="normal" dominant-baseline="central" >-</text>
<text transform="translate(161.4,391.79999999999995) scale(0.9259,1)" font-size="7.56" text-anchor="middle" fill="#333" font-weight="normal" dominant-baseline="central" >-</text>
<text transform="translate(188,392.4) scale(0.9259,1)" font-size="8.64" text-anchor="middle" fill="#333" font-weight="normal" dominant-baseline="central" >+</text>
<text transform="translate(214.2,392.4) scale(0.9259,1)" font-size="8.64" text-anchor="middle" fill="#333" font-weight="normal" dominant-baseline="central" >+</text>
<text transform="translate(240.5,391.79999999999995) scale(0.9259,1)" font-size="7.56" text-anchor="middle" fill="#333" font-weight="normal" dominant-baseline="central" >-</text>
<text transform="translate(266.7,391.79999999999995) scale(0.9259,1)" font-size="7.56" text-anchor="middle" fill="#333" font-weight="normal" dominant-baseline="central" >-</text>
<text transform="translate(99.4,403.0) scale(0.9259,1)" font-size="8.64" text-anchor="end" fill="#333" font-weight="normal" dominant-baseline="central" >Dexamethasone (200 nM)</text>
<text transform="translate(108.9,402.4) scale(0.9259,1)" font-size="7.56" text-anchor="middle" fill="#333" font-weight="normal" dominant-baseline="central" >-</text>
<text transform="translate(135.1,402.4) scale(0.9259,1)" font-size="7.56" text-anchor="middle" fill="#333" font-weight="normal" dominant-baseline="central" >-</text>
<text transform="translate(161.4,402.4) scale(0.9259,1)" font-size="7.56" text-anchor="middle" fill="#333" font-weight="normal" dominant-baseline="central" >-</text>
<text transform="translate(188,402.4) scale(0.9259,1)" font-size="7.56" text-anchor="middle" fill="#333" font-weight="normal" dominant-baseline="central" >-</text>
<text transform="translate(214.2,402.4) scale(0.9259,1)" font-size="7.56" text-anchor="middle" fill="#333" font-weight="normal" dominant-baseline="central" >-</text>
<text transform="translate(240.5,403.0) scale(0.9259,1)" font-size="8.64" text-anchor="middle" fill="#333" font-weight="normal" dominant-baseline="central" >+</text>
<text transform="translate(266.7,403.0) scale(0.9259,1)" font-size="8.64" text-anchor="middle" fill="#333" font-weight="normal" dominant-baseline="central" >+</text>
<line x1="347.6" y1="265" x2="347.6" y2="372" stroke="#111" stroke-width="1.3"/>
<line x1="346.95000000000005" y1="371.5" x2="498.20000000000005" y2="371.5" stroke="#111" stroke-width="1.8"/>
<line x1="344.5" y1="267" x2="347.6" y2="267" stroke="#111" stroke-width="1.3"/>
<text transform="translate(341.2,267) scale(0.9259,1)" font-size="8.64" text-anchor="end" fill="#333" font-weight="normal" dominant-baseline="central" >100</text>
<line x1="344.5" y1="293.2" x2="347.6" y2="293.2" stroke="#111" stroke-width="1.3"/>
<text transform="translate(341.2,293.2) scale(0.9259,1)" font-size="8.64" text-anchor="end" fill="#333" font-weight="normal" dominant-baseline="central" >75</text>
<line x1="344.5" y1="319.4" x2="347.6" y2="319.4" stroke="#111" stroke-width="1.3"/>
<text transform="translate(341.2,319.4) scale(0.9259,1)" font-size="8.64" text-anchor="end" fill="#333" font-weight="normal" dominant-baseline="central" >50</text>
<line x1="344.5" y1="345.5" x2="347.6" y2="345.5" stroke="#111" stroke-width="1.3"/>
<text transform="translate(341.2,345.5) scale(0.9259,1)" font-size="8.64" text-anchor="end" fill="#333" font-weight="normal" dominant-baseline="central" >25</text>
<line x1="344.5" y1="371.5" x2="347.6" y2="371.5" stroke="#111" stroke-width="1.3"/>
<text transform="translate(341.2,371.5) scale(0.9259,1)" font-size="8.64" text-anchor="end" fill="#333" font-weight="normal" dominant-baseline="central" >0</text>
<line x1="347.6" y1="371.5" x2="347.6" y2="374.5" stroke="#111" stroke-width="1.3"/>
<text transform="translate(347.6,381.1) scale(0.9259,1)" font-size="8.64" text-anchor="middle" fill="#333" font-weight="normal" dominant-baseline="central" >0</text>
<line x1="377.6" y1="371.5" x2="377.6" y2="374.5" stroke="#111" stroke-width="1.3"/>
<text transform="translate(377.6,381.1) scale(0.9259,1)" font-size="8.64" text-anchor="middle" fill="#333" font-weight="normal" dominant-baseline="central" >20</text>
<line x1="407.6" y1="371.5" x2="407.6" y2="374.5" stroke="#111" stroke-width="1.3"/>
<text transform="translate(407.6,381.1) scale(0.9259,1)" font-size="8.64" text-anchor="middle" fill="#333" font-weight="normal" dominant-baseline="central" >40</text>
<line x1="437.6" y1="371.5" x2="437.6" y2="374.5" stroke="#111" stroke-width="1.3"/>
<text transform="translate(437.6,381.1) scale(0.9259,1)" font-size="8.64" text-anchor="middle" fill="#333" font-weight="normal" dominant-baseline="central" >60</text>
<line x1="467.6" y1="371.5" x2="467.6" y2="374.5" stroke="#111" stroke-width="1.3"/>
<text transform="translate(467.6,381.1) scale(0.9259,1)" font-size="8.64" text-anchor="middle" fill="#333" font-weight="normal" dominant-baseline="central" >80</text>
<line x1="497.6" y1="371.5" x2="497.6" y2="374.5" stroke="#111" stroke-width="1.3"/>
<text transform="translate(497.6,381.1) scale(0.9259,1)" font-size="8.64" text-anchor="middle" fill="#333" font-weight="normal" dominant-baseline="central" >100</text>
<text x="424.3" y="391.3" font-size="8.6" text-anchor="middle" fill="#333" dominant-baseline="central" stroke="#333" stroke-width="0.3" textLength="60.6" lengthAdjust="spacingAndGlyphs">Days post transplant</text>
<text transform="translate(318.6,318.5) rotate(-90)" font-size="9" text-anchor="middle" fill="#333" stroke="#333" stroke-width="0.3" textLength="37.8" lengthAdjust="spacingAndGlyphs">Survival (%)</text>
<text transform="translate(379.6,307.6) scale(0.9259,1)" font-size="8.64" text-anchor="start" fill="#333" font-weight="normal" dominant-baseline="central" >p = 0.002</text>
<path d="M440.8,267.3 H448.2 V293.2 H454 V332.5 H455.5 V345.6 H461.8 V358.7 H468 V371.4" fill="none" stroke="#a0203e" stroke-width="1.2"/>
<path d="M347.6,267.3 H440.8 V280.1 H441.7 V293.2 H443.9 V318.6 H448.2 V332.5 H449.6 V345.6 H451.1 V371.4" fill="none" stroke="#475672" stroke-width="1.2"/>
<line x1="468" y1="270.9" x2="479.6" y2="270.9" stroke="#a0203e" stroke-width="1.4"/>
<line x1="473.8" y1="267.6" x2="473.8" y2="270.9" stroke="#a0203e" stroke-width="1.2"/>
<line x1="468" y1="282.5" x2="479.6" y2="282.5" stroke="#475672" stroke-width="1.4"/>
<line x1="473.8" y1="279.2" x2="473.8" y2="282.5" stroke="#475672" stroke-width="1.2"/>
<text transform="translate(481.2,270.2) scale(0.9259,1)" font-size="8.21" text-anchor="start" fill="#333" font-weight="normal" dominant-baseline="central" >Thorax</text>
<text transform="translate(481.2,281.6) scale(0.9259,1)" font-size="8.21" text-anchor="start" fill="#333" font-weight="normal" dominant-baseline="central" >Tail</text>
<rect x="0.5" y="0.5" width="519" height="414" fill="none" stroke="#000" stroke-width="1.6"/>
</g>
</svg>
</div></body></html>
